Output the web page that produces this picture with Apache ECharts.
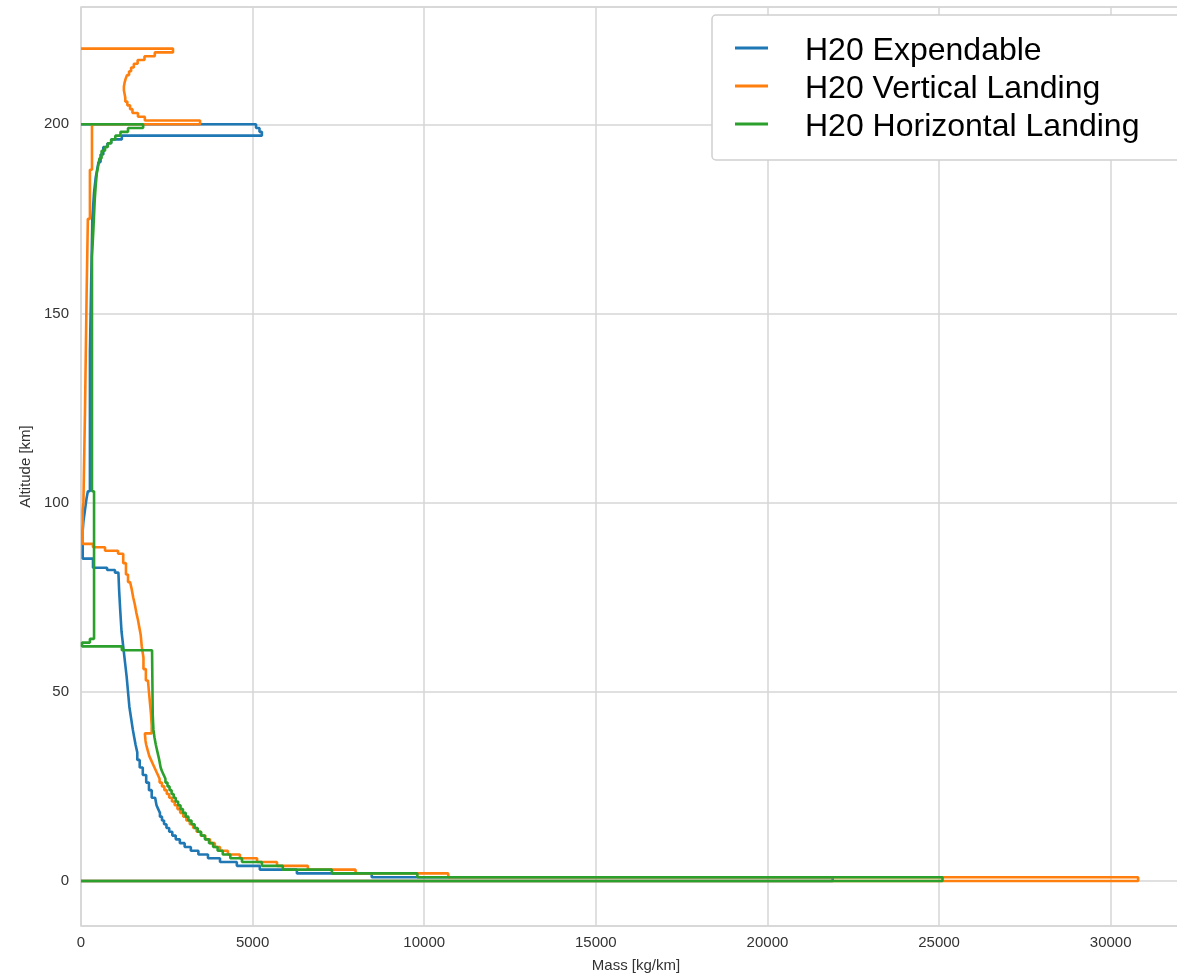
<!DOCTYPE html>
<html>
<head>
<meta charset="utf-8">
<script src="https://cdn.jsdelivr.net/npm/echarts@6/dist/echarts.min.js"></script>
<style>
html,body{margin:0;padding:0;background:#fff;}
#chart{width:1177px;height:973px;}
</style>
</head>
<body>
<div id="chart"></div>
<script>
// ---- Data (altitude in km, mass in kg/km); each mass holds from its altitude up to the next altitude ----
const seriesNames = ['H20 Expendable', 'H20 Vertical Landing', 'H20 Horizontal Landing'];
const seriesColors = ['#1f77b4', '#ff7f0e', '#2ca02c'];

const expAlt = [0, 0, 1, 2, 3, 4, 5, 6, 7, 8, 9,
  10, 11, 12, 13, 14, 15, 16, 17, 18, 19,
  20, 22, 24, 26, 28, 30, 32, 34, 36, 38,
  40, 43, 46, 50, 54, 58, 62, 66, 72, 77,
  81.5, 82.2, 82.8, 85.2, 92.6, 95, 97, 99, 101, 103,
  140, 160, 175, 182, 186, 188, 190, 192, 194, 195,
  196, 197, 198, 199, 200];
const expMass = [0, 21900, 8470, 6290, 5210, 4540, 4050, 3700, 3420, 3200, 3020,
  2880, 2760, 2660, 2570, 2490, 2420, 2360, 2300, 2250, 2200,
  2160, 2060, 1980, 1900, 1800, 1710, 1640, 1590, 1550, 1510,
  1460, 1410, 1370, 1330, 1280, 1230, 1180, 1140, 1110, 1090,
  990, 760, 350, 50, 70, 100, 130, 160, 200, 260,
  300, 330, 380, 430, 470, 510, 570, 650, 770, 880,
  1190, 5270, 5200, 5100, 0];

const vlAlt = [0, 0, 1, 2, 3, 4, 5, 6, 7, 8, 9,
  10, 11, 12, 13, 14, 15, 16, 17, 18, 19,
  20, 21, 22, 23, 24, 25, 26, 27, 28, 29,
  30, 31, 32, 33, 34, 35, 36, 37, 39, 41,
  44, 47, 50, 53, 56, 59, 62, 65, 67, 69,
  71, 73, 75, 77, 79, 81, 84, 86.5, 87.3, 88.2,
  89.1, 98, 100, 123.5, 156, 175, 188, 200, 201, 202,
  203, 204, 205, 206, 207, 208, 209, 210, 211, 212,
  213, 214, 215, 216, 217, 218, 219, 220];
const vlMass = [0, 30800, 10700, 8000, 6610, 5710, 5130, 4630, 4280, 4050, 3900,
  3760, 3620, 3490, 3370, 3270, 3170, 3070, 2980, 2890, 2810,
  2730, 2650, 2570, 2500, 2430, 2360, 2290, 2240, 2190, 2140,
  2090, 2040, 1990, 1960, 1930, 1900, 1880, 1860, 2060, 2040,
  2010, 1980, 1950, 1890, 1820, 1770, 1740, 1700, 1660, 1610,
  1570, 1520, 1480, 1430, 1370, 1310, 1230, 1080, 700, 350,
  50, 70, 115, 165, 200, 260, 320, 3470, 1860, 1660,
  1500, 1430, 1350, 1290, 1270, 1250, 1250, 1270, 1300, 1340,
  1400, 1460, 1540, 1650, 1850, 2150, 2680, 0];

const hlAlt = [0, 0, 1, 2, 3, 4, 5, 6, 7, 8, 9,
  10, 11, 12, 13, 14, 15, 16, 17, 18, 19,
  20, 21, 22, 23, 24, 25, 26, 27, 28, 29,
  30, 32, 34, 36, 38, 40, 44, 61, 62, 63,
  64, 103, 165, 172, 180, 184, 187, 189, 191, 193,
  194, 195, 196, 197, 198, 199, 200];
const hlMass = [0, 25100, 9800, 7310, 5880, 5270, 4690, 4350, 4130, 3980, 3850,
  3730, 3610, 3500, 3400, 3310, 3220, 3130, 3050, 2970, 2900,
  2830, 2760, 2700, 2640, 2580, 2520, 2460, 2410, 2360, 2320,
  2280, 2230, 2180, 2140, 2110, 2090, 2070, 1190, 30, 260,
  380, 320, 360, 400, 430, 460, 500, 540, 600, 700,
  780, 880, 1000, 1150, 1370, 1810, 0];

const xTicks = [0, 5000, 10000, 15000, 20000, 25000, 30000];
const yTicks = [0, 50, 100, 150, 200];

function toPairs(masses, alts) {
  const n = Math.min(masses.length, alts.length);
  const out = [];
  for (let i = 0; i < n; i++) out.push([masses[i], alts[i]]);
  return out;
}
const allData = [toPairs(expMass, expAlt), toPairs(vlMass, vlAlt), toPairs(hlMass, hlAlt)];

const chart = echarts.init(document.getElementById('chart'), null, {renderer: 'canvas'});
const font = 'Liberation Sans, Arial, Helvetica, sans-serif';
const gridColor = '#d6d6d6';

chart.setOption({
  animation: false,
  backgroundColor: '#ffffff',
  grid: {
    left: 81, top: 7, right: -14, bottom: 47,
    show: true, borderColor: gridColor, borderWidth: 1.5,
    containLabel: false, outerBoundsMode: 'none'
  },
  legend: {
    data: seriesNames,
    orient: 'vertical',
    left: 712, top: 15,
    backgroundColor: '#ffffff',
    borderColor: '#cfcfcf', borderWidth: 1.5, borderRadius: 4,
    padding: [14, 60, 17, 23],
    itemWidth: 33, itemHeight: 3, itemGap: 0,
    icon: 'rect',
    formatter: name => '{s|}{t|' + name + '}',
    textStyle: {
      fontFamily: font, fontSize: 32, color: '#000',
      rich: {
        s: {width: 32, height: 38, lineHeight: 38},
        t: {fontFamily: font, fontSize: 32, color: '#000', lineHeight: 25, verticalAlign: 'bottom'}
      }
    }
  },
  xAxis: {
    type: 'value',
    min: 0, max: 32340, interval: 5000,
    name: 'Mass [kg/km]', nameLocation: 'middle', nameGap: 32,
    nameTextStyle: {fontFamily: font, fontSize: 15, color: '#333'},
    axisLine: {show: false},
    axisTick: {show: false},
    axisLabel: {
      fontFamily: font, fontSize: 15, color: '#333', margin: 9,
      showMaxLabel: false,
      formatter: v => xTicks.indexOf(v) >= 0 ? String(v) : ''
    },
    splitLine: {show: true, lineStyle: {color: gridColor, width: 1.5}}
  },
  yAxis: {
    type: 'value',
    min: -11.9, max: 231, splitNumber: 5,
    name: 'Altitude [km]', nameLocation: 'middle', nameGap: 48,
    nameTextStyle: {fontFamily: font, fontSize: 15, color: '#333'},
    axisLine: {show: false},
    axisTick: {show: false},
    axisLabel: {
      fontFamily: font, fontSize: 15, color: '#333', margin: 12,
      showMinLabel: false, showMaxLabel: false,
      formatter: v => yTicks.indexOf(v) >= 0 ? String(v) : ''
    },
    splitLine: {show: true, lineStyle: {color: gridColor, width: 1.5}}
  },
  series: seriesNames.map((name, i) => ({
    name: name,
    type: 'line',
    step: 'start',
    data: allData[i],
    showSymbol: false,
    symbol: 'none',
    color: seriesColors[i],
    lineStyle: {color: seriesColors[i], width: 2.6},
    z: 2 + i
  }))
});
</script>
</body>
</html>
